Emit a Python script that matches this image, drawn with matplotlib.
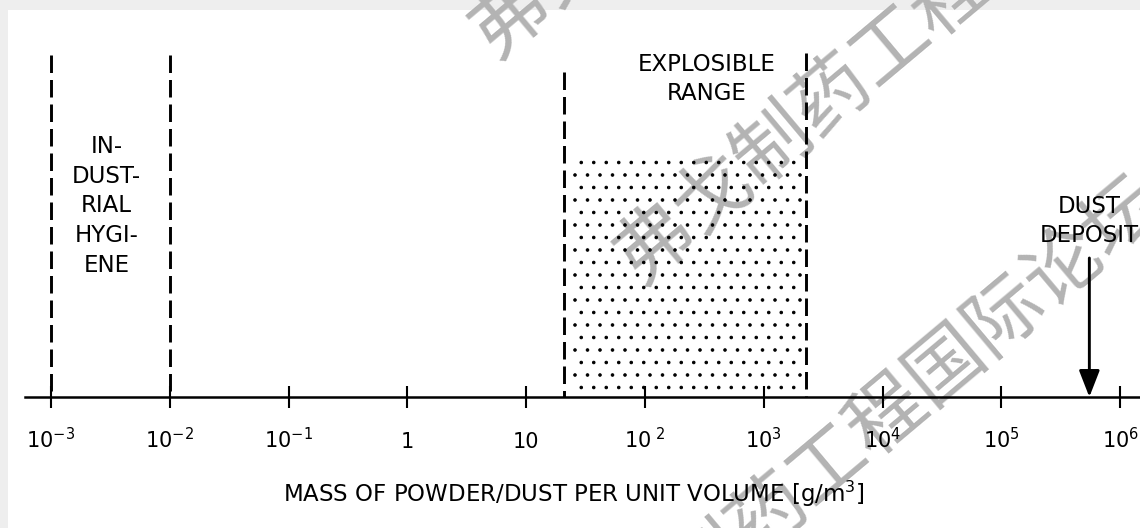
import matplotlib.pyplot as plt
import numpy as np

plt.rcParams['font.family'] = ['DejaVu Sans']
plt.rcParams['hatch.linewidth'] = 0.5

# data (g/m3)
decades = [1e-3, 1e-2, 1e-1, 1, 10, 1e2, 1e3, 1e4, 1e5, 1e6]
tick_labels = [r'$\mathregular{10^{-3}}$', r'$\mathregular{10^{-2}}$', r'$\mathregular{10^{-1}}$',
               '1', '10', r'$\mathregular{10^{\ 2}}$', r'$\mathregular{10^{3}}$',
               r'$\mathregular{10^{4}}$', r'$\mathregular{10^{5}}$', r'$\mathregular{10^{6}}$']
hygiene_limits = [1e-3, 1e-2]
explosible_limits = [21, 2250]
stipple_range = [25, 2100]
dust_deposit = 5.5e5
watermark = '弗戈制药工程国际论坛'

W, H = 1140, 528
x0, ppd = 51, 118.8   # pixel of 1e-3, pixels per decade

fig = plt.figure(figsize=(7.6, 3.52), dpi=150, facecolor='#eeeeee')
ax = fig.add_axes([8 / W, 0, 1 - 8 / W, 1 - 10 / H])
ax.set_facecolor('white')
ax.set_xscale('log')
ax.set_xlim(10 ** (-3 - (x0 - 8) / ppd), 10 ** (-3 + (W - x0) / ppd))
ax.set_ylim(H, 10)
ax.set_yticks([])
for s in ['left', 'right', 'top']:
    ax.spines[s].set_visible(False)

axis_y = 397
ax.spines['bottom'].set_position(('data', axis_y))
ax.spines['bottom'].set_linewidth(1.2)
ax.spines['bottom'].set_bounds(10 ** -3.22, 10 ** 6.3)
ax.set_xticks(decades)
ax.set_xticklabels(tick_labels)
ax.xaxis.set_minor_locator(plt.NullLocator())
ax.tick_params(axis='x', direction='inout', length=11, width=1.0, pad=19, labelsize=10)
for t in ax.get_xticklabels():
    t.set_va('baseline')
ax.set_xlabel('MASS OF POWDER/DUST PER UNIT VOLUME [g/m$\\mathregular{^3}$]', fontsize=11, labelpad=13)

# dashed boundaries
dash = dict(color='black', lw=1.4, linestyles=[(0, (6, 2.4))], zorder=3)
ax.vlines(hygiene_limits, 55, axis_y, **dash)
ax.vlines(explosible_limits[0], 72, axis_y, **dash)
ax.vlines(explosible_limits[1], 53, axis_y, **dash)

# stippled explosible range
ax.fill_between(stipple_range, 160, axis_y - 5, facecolor='none', edgecolor='black',
                linewidth=0, hatch='..', zorder=2)

# labels
txt = dict(ha='center', va='center', fontsize=11, linespacing=1.37, zorder=4)
gm = np.sqrt(hygiene_limits[0] * hygiene_limits[1])
ax.text(gm * 0.93, 206, 'IN-\nDUST-\nRIAL\nHYGI-\nENE', **txt)
ax.text(np.sqrt(explosible_limits[0] * explosible_limits[1]) * 1.53, 79, 'EXPLOSIBLE\nRANGE', **txt)
ax.text(dust_deposit, 221, 'DUST\nDEPOSIT', **txt)

ax.annotate('', xy=(dust_deposit, axis_y), xytext=(dust_deposit, 258),
            arrowprops=dict(arrowstyle='-|>,head_length=0.9,head_width=0.35', color='black',
                            lw=1.4, mutation_scale=12, shrinkA=0, shrinkB=0), zorder=4)

# watermark
for cx, cy in [(777, -204), (922, 22), (859, 441)]:
    ax.text(cx / W, 1 - cy / H, watermark, transform=fig.transFigure, rotation=40,
            rotation_mode='anchor', ha='center', va='center', fontsize=37,
            family=['Noto Sans CJK SC'], fontweight='light', color='#b3b3b3', zorder=1)

fig.savefig('out.png', dpi=150, facecolor=fig.get_facecolor())
